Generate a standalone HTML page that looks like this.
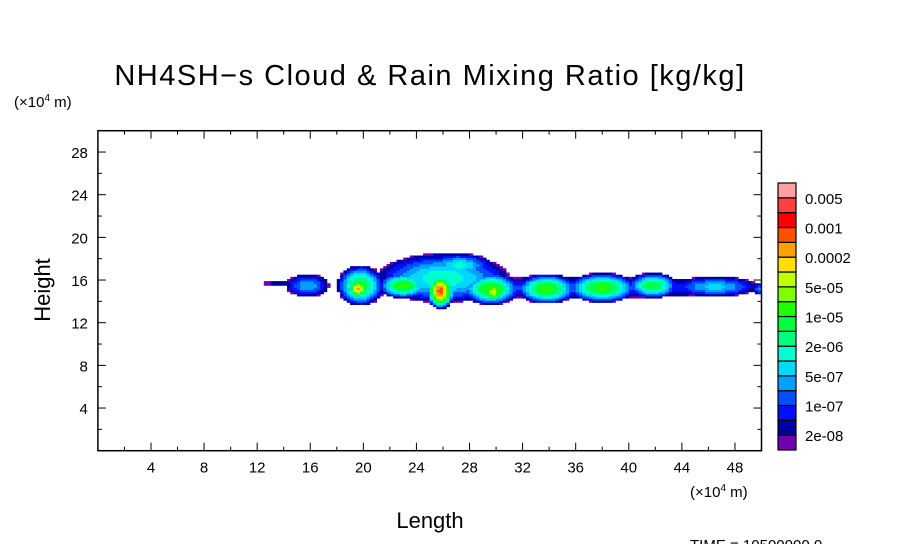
<!DOCTYPE html>
<html><head><meta charset="utf-8"><style>
body{margin:0;background:#fff;width:904px;height:544px;overflow:hidden;font-family:"Liberation Sans",sans-serif}
</style></head><body>
<svg id="chart" width="904" height="544" xmlns="http://www.w3.org/2000/svg" font-family="Liberation Sans, sans-serif">
<text x="430" y="85" font-size="29" text-anchor="middle" letter-spacing="1.5">NH4SH−s Cloud &amp; Rain Mixing Ratio [kg/kg]</text>
<text x="14" y="107" font-size="15">(×10<tspan font-size="10" dy="-6">4</tspan><tspan dy="6"> m)</tspan></text>
<text x="690" y="497" font-size="15">(×10<tspan font-size="10" dy="-6">4</tspan><tspan dy="6"> m)</tspan></text>
<text transform="translate(50,290) rotate(-90)" font-size="22" text-anchor="middle">Height</text>
<text x="430" y="528" font-size="22" text-anchor="middle">Length</text>
<text x="690" y="550" font-size="15">TIME = 10500000.0</text>
<g id="field"></g>
<g id="axes"></g>
<g id="cbar"></g>
</svg>
<script>
const xTicks=[4,8,12,16,20,24,28,32,36,40,44,48];
const yTicks=[4,8,12,16,20,24,28];
const colors=["#7000b0","#0000a0","#0010ff","#0050ff","#00a0ff","#00d8ff","#00ffd0","#00ff80","#00ff40","#20ff00","#80ff00","#c0ff00","#ffe000","#ffa000","#ff5000","#ff0000","#ff4040","#ffa0a0"];
const cbarLabels=["0.005","0.001","0.0002","5e-05","1e-05","2e-06","5e-07","1e-07","2e-08"];
// blobs: center x, center y, radius x, radius y, peak level
const blobX=[14.3,15.8,19.8,19.6,26.0,23.0,25.8,29.6,29.8,33.8,38.0,41.8,46.5,50.0,27.2,35.5];
const blobY=[15.7,15.5,15.5,15.2,16.2,15.5,15.0,15.2,14.9,15.2,15.3,15.5,15.4,15.2,17.4,15.3];
const blobRX=[1.8,1.6,1.8,0.8,5.0,1.9,1.1,2.2,1.0,2.3,2.6,1.9,3.2,0.8,2.5,14.5];
const blobRY=[0.3,1.1,1.9,1.0,2.3,1.2,1.7,1.5,1.0,1.4,1.4,1.2,0.95,0.6,1.1,1.0];
const blobL=[1.5,5,9,14,7,10,15,10,12,10,10,9,5.5,4.5,6.5,3.5];
const NS="http://www.w3.org/2000/svg";
const X0=97.9,X1=761.5,Y0=450.7,Y1=130.7;
const sx=v=>X0+(v/50)*(X1-X0), sy=v=>Y0-(v/30)*(Y0-Y1);
function mk(t,a,p){const e=document.createElementNS(NS,t);for(const k in a)e.setAttribute(k,a[k]);p.appendChild(e);return e;}
const field=document.getElementById('field');
const dx=0.25,dy=0.2;
for(let x=12;x<50;x+=dx){for(let y=12.5;y<19.5;y+=dy){
 let f=0;const cx=x+dx/2,cy=y+dy/2;
 for(let b=0;b<blobX.length;b++){const d=((cx-blobX[b])/blobRX[b])**2+((cy-blobY[b])/blobRY[b])**2;if(d<1)f=Math.max(f,0.7+(blobL[b]-0.7)*(1-Math.pow(d,0.8)));}
 if(f>=0.7){const idx=Math.min(17,Math.floor(f));
  const r=mk('rect',{x:sx(x),y:sy(y+dy),width:sx(dx)-sx(0)+0.4,height:sy(0)-sy(dy)+0.4,fill:colors[idx]},field);
  
  }
}}
const axes=document.getElementById('axes');
const fr=mk('rect',{x:X0,y:Y1,width:X1-X0,height:Y0-Y1,fill:'none',stroke:'#000','stroke-width':1.5},axes);


for(let v=2;v<50;v+=2){const L=(v%4==0)?8:4;
 mk('line',{x1:sx(v),x2:sx(v),y1:Y0,y2:Y0-L,stroke:'#000'},axes);mk('line',{x1:sx(v),x2:sx(v),y1:Y1,y2:Y1+L,stroke:'#000'},axes);}
for(let v=2;v<30;v+=2){const L=(v%4==0)?8:4;
 mk('line',{x1:X0,x2:X0+L,y1:sy(v),y2:sy(v),stroke:'#000'},axes);mk('line',{x1:X1,x2:X1-L,y1:sy(v),y2:sy(v),stroke:'#000'},axes);}
xTicks.forEach(v=>{const t=mk('text',{x:sx(v),y:Y0+22,'font-size':15,'text-anchor':'middle'},axes);t.textContent=v;
 
 });
yTicks.forEach(v=>{const t=mk('text',{x:X0-10,y:sy(v)+6,'font-size':15,'text-anchor':'end'},axes);t.textContent=v;
 
 });
const cb=document.getElementById('cbar');
const cT=183,cB=450,h=(cB-cT)/colors.length;
colors.forEach((c,i)=>{const r=mk('rect',{x:778,y:cB-(i+1)*h,width:18,height:h,fill:c,stroke:'#000','stroke-width':1.2},cb);
 
 });
cbarLabels.forEach((l,i)=>{const t=mk('text',{x:805,y:cT+(2*i+1)*h+6,'font-size':15},cb);t.textContent=l;
 
 });
</script>
</body></html>
